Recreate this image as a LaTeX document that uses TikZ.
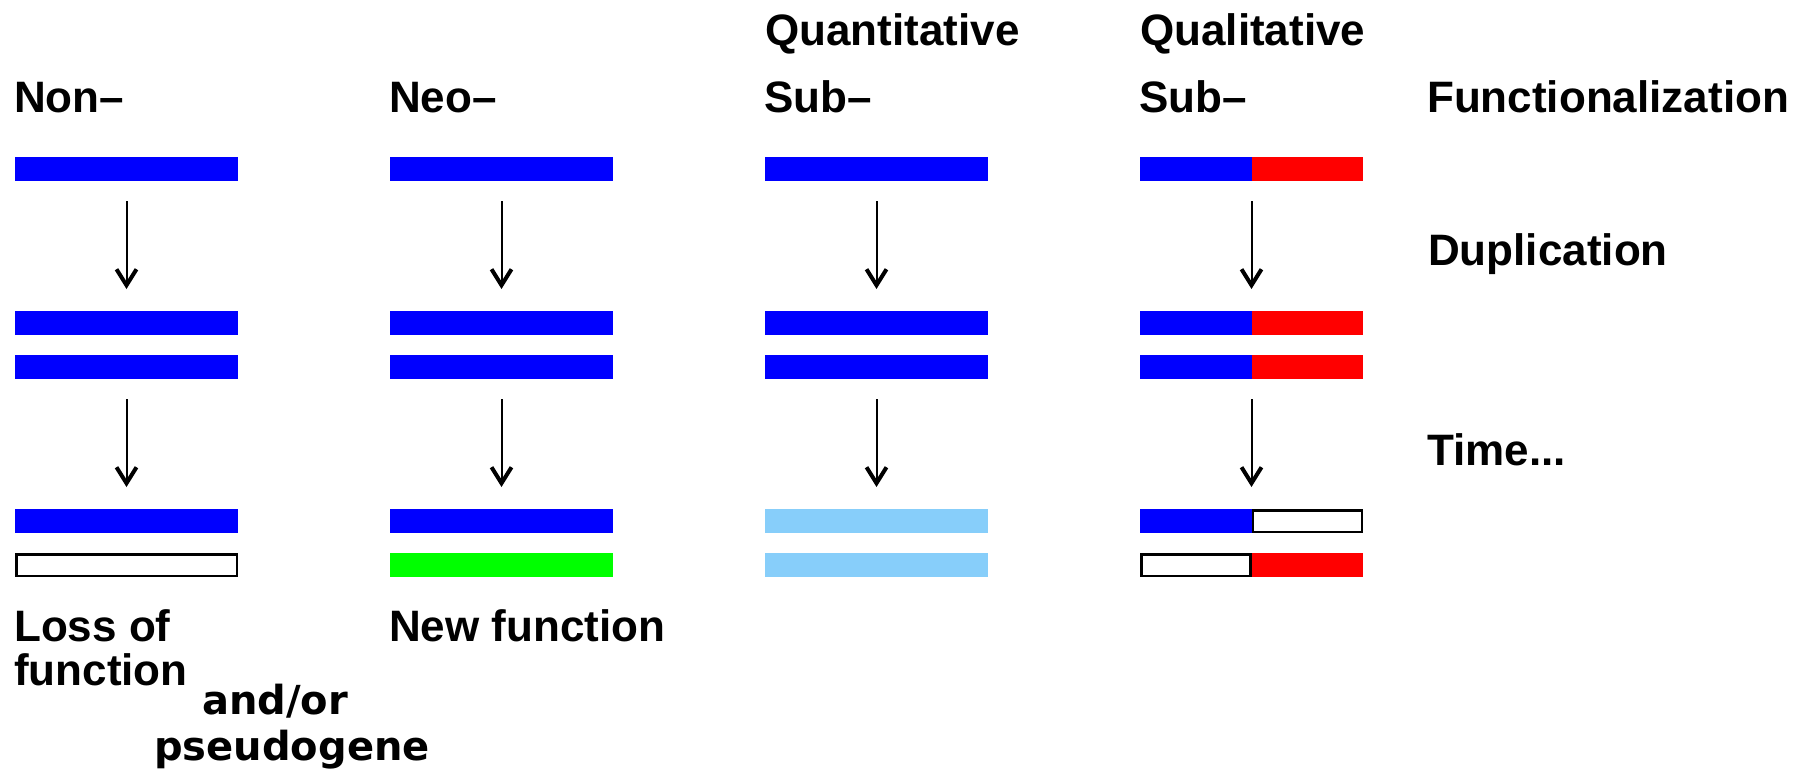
\documentclass[tikz,border=0pt]{standalone}
\usepackage{fontspec}
\setmainfont{Liberation Sans}
\newfontfamily\dvfont{DejaVu Sans}
\usetikzlibrary{arrows.meta,calc}
\definecolor{geneblue}{RGB}{0,0,255}
\definecolor{genered}{RGB}{255,0,0}
\definecolor{genegreen}{RGB}{0,255,0}
\definecolor{genelight}{RGB}{135,206,250}
\tikzset{
  bar/.style={minimum width=223pt,minimum height=24pt,inner sep=0pt,outer sep=0pt,anchor=north west},
  lbl/.style={anchor=base west,inner sep=0pt,font=\fontsize{44}{50}\selectfont\bfseries},
  note/.style={anchor=base west,inner sep=0pt,font=\fontsize{40}{46}\selectfont\dvfont\bfseries},
  flow/.style={line width=2pt,-{Straight Barb[length=16pt,width=20pt,line width=4pt]},shorten <=20pt,shorten >=22pt},
  hollow/.style={line width=2.5pt}
}
\begin{document}
\begin{tikzpicture}[x=1pt,y=1pt]
\useasboundingbox (0,0) rectangle (1805,-771);
% column headings
\node[lbl] (h1) at (14,-112) {Non–};
\node[lbl] (h2) at (389,-112) {Neo–};
\node[lbl] (h3a) at (765,-45) {Quantitative};
\node[lbl] (h3b) at (764,-112) {Sub–};
\node[lbl] (h4a) at (1140,-45) {Qualitative};
\node[lbl] (h4b) at (1139,-112) {Sub–};
% row labels
\node[lbl] (r1) at (1427,-112) {Functionalization};
\node[lbl] (r2) at (1428,-265) {Duplication};
\node[lbl] (r3) at (1427,-465) {Time...};
% bottom labels
\node[lbl] (b1) at (14,-641) {Loss of};
\node[lbl] (b2) at (14,-685) {function};
\node[lbl] (b3) at (389,-641) {New function};
\node[note] (b4) at (202,-714) {and/or};
\node[note] (b5) at (154,-760) {pseudogene};

% column 1: Non-functionalization
\node[bar,fill=geneblue] (a1) at (15,-157) {};
\node[bar,fill=geneblue] (a2) at (15,-311) {};
\node[bar,fill=geneblue] (a3) at (15,-355) {};
\node[bar,fill=geneblue] (a4) at (15,-509) {};
\node[bar] (a5) at (15,-553) {};
\draw[hollow] ($(a5.north west)+(1.25,-1.25)$) rectangle ($(a5.south east)+(-1.25,1.25)$);
\draw[flow] (a1) -- (a2);
\draw[flow] (a3) -- (a4);

% column 2: Neo-functionalization
\node[bar,fill=geneblue] (b1g) at (390,-157) {};
\node[bar,fill=geneblue] (b2g) at (390,-311) {};
\node[bar,fill=geneblue] (b3g) at (390,-355) {};
\node[bar,fill=geneblue] (b4g) at (390,-509) {};
\node[bar,fill=genegreen] (b5g) at (390,-553) {};
\draw[flow] (b1g) -- (b2g);
\draw[flow] (b3g) -- (b4g);

% column 3: Quantitative sub-functionalization
\node[bar,fill=geneblue] (c1) at (765,-157) {};
\node[bar,fill=geneblue] (c2) at (765,-311) {};
\node[bar,fill=geneblue] (c3) at (765,-355) {};
\node[bar,fill=genelight] (c4) at (765,-509) {};
\node[bar,fill=genelight] (c5) at (765,-553) {};
\draw[flow] (c1) -- (c2);
\draw[flow] (c3) -- (c4);

% column 4: Qualitative sub-functionalization
\node[bar] (d1) at (1140,-157) {};
\fill[geneblue] (d1.north west) rectangle (d1.south);
\fill[genered] (d1.north) rectangle (d1.south east);
\node[bar] (d2) at (1140,-311) {};
\fill[geneblue] (d2.north west) rectangle (d2.south);
\fill[genered] (d2.north) rectangle (d2.south east);
\node[bar] (d3) at (1140,-355) {};
\fill[geneblue] (d3.north west) rectangle (d3.south);
\fill[genered] (d3.north) rectangle (d3.south east);
\node[bar] (d4) at (1140,-509) {};
\fill[geneblue] (d4.north west) rectangle (d4.south);
\draw[hollow] ($(d4.north)+(1.25,-1.25)$) rectangle ($(d4.south east)+(-1.25,1.25)$);
\node[bar] (d5) at (1140,-553) {};
\fill[genered] (d5.north) rectangle (d5.south east);
\draw[hollow] ($(d5.north west)+(1.25,-1.25)$) rectangle ($(d5.south)+(-1.25,1.25)$);
\draw[flow] (d1) -- (d2);
\draw[flow] (d3) -- (d4);
\end{tikzpicture}
\end{document}
